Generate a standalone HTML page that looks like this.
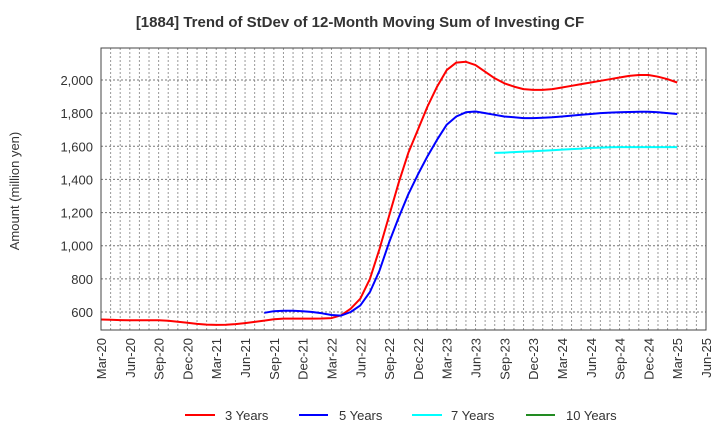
<!DOCTYPE html>
<html><head><meta charset="utf-8"><style>
body{margin:0;background:#fff;font-family:"Liberation Sans",sans-serif}
</style></head><body>
<svg id="chart" width="720" height="440" xmlns="http://www.w3.org/2000/svg" font-family="Liberation Sans, sans-serif">
<text x="360" y="27" text-anchor="middle" font-size="15" font-weight="bold" fill="#333">[1884]  Trend of StDev of 12-Month Moving Sum of Investing CF</text>
<text transform="translate(19,191) rotate(-90)" text-anchor="middle" font-size="13" fill="#333">Amount (million yen)</text>
<g id="grid"></g><g id="series"></g><g id="axes"></g>
<g font-size="13" fill="#333">
<line x1="185" y1="415" x2="215" y2="415" stroke="#f00" stroke-width="2"/><text x="225" y="420">3 Years</text>
<line x1="299" y1="415" x2="328" y2="415" stroke="#00f" stroke-width="2"/><text x="339" y="420">5 Years</text>
<line x1="412" y1="415" x2="442" y2="415" stroke="#0ff" stroke-width="2"/><text x="451" y="420">7 Years</text>
<line x1="526" y1="415" x2="555" y2="415" stroke="#228b22" stroke-width="2"/><text x="566" y="420">10 Years</text>
</g>
</svg>
<script>
const xLabels=["Mar-20","Jun-20","Sep-20","Dec-20","Mar-21","Jun-21","Sep-21","Dec-21","Mar-22","Jun-22","Sep-22","Dec-22","Mar-23","Jun-23","Sep-23","Dec-23","Mar-24","Jun-24","Sep-24","Dec-24","Mar-25","Jun-25"];
const yTicks=[600,800,1000,1200,1400,1600,1800,2000];
const s3=[555,553,551,550,550,550,550,547,541,535,528,524,522,523,527,533,540,548,556,560,560,560,560,561,563,580,620,680,800,980,1180,1380,1560,1700,1840,1960,2060,2105,2110,2090,2050,2010,1980,1960,1945,1940,1940,1945,1955,1965,1975,1985,1995,2005,2015,2025,2030,2030,2020,2005,1985];
const s5=Array(17).fill(null).concat([595,605,608,608,605,600,592,582,578,600,640,720,850,1020,1170,1310,1430,1540,1640,1730,1780,1805,1810,1800,1790,1780,1775,1770,1770,1772,1775,1780,1785,1790,1795,1800,1803,1805,1807,1808,1808,1805,1800,1795]);
const s7=Array(41).fill(null).concat([1560,1562,1565,1568,1570,1573,1576,1580,1583,1586,1590,1592,1594,1595,1595,1595,1595,1595,1595,1595]);
const s10=[];
const L=101,R=706,T=48,B=330;
const X=m=>L+m*(R-L)/63;
const Y=v=>312-(v-600)*(232/1400);
const NS="http://www.w3.org/2000/svg";
function mk(t,a,p){const e=document.createElementNS(NS,t);for(const k in a)e.setAttribute(k,a[k]);p.appendChild(e);return e;}
const grid=document.getElementById('grid'),axes=document.getElementById('axes'),ser=document.getElementById('series');
for(let m=1;m<63;m++){const l=mk('line',{x1:X(m),x2:X(m),y1:T,y2:B,stroke:'#999','stroke-width':1,'stroke-dasharray':'2,2'},grid);

}
yTicks.forEach(v=>{const l=mk('line',{x1:L,x2:R,y1:Y(v),y2:Y(v),stroke:'#777','stroke-width':1,'stroke-dasharray':'2,2'},grid);


const t=mk('text',{x:L-8,y:Y(v)+5,'text-anchor':'end','font-size':13,fill:'#333'},axes);


t.textContent=v.toLocaleString('en-US');});
const box=mk('rect',{x:L,y:T,width:R-L,height:B-T,fill:'none',stroke:'#444','stroke-width':1},axes);


xLabels.forEach((s,i)=>{const x=X(i*3);const t=mk('text',{transform:`translate(${x+5},338) rotate(-90)`,'text-anchor':'end','font-size':13,fill:'#333'},axes);


t.textContent=s;});
function draw(arr,color,name){let d='';arr.forEach((v,i)=>{if(v==null)return;d+=(d?'L':'M')+X(i).toFixed(1)+','+Y(v).toFixed(1);});
if(!d)return;const p=mk('path',{d:d,fill:'none',stroke:color,'stroke-width':2,'stroke-linejoin':'round'},ser);

}
draw(s3,'#f00','line-3-years');draw(s5,'#00f','line-5-years');draw(s7,'#0ff','line-7-years');draw(s10,'#228b22','line-10-years');
</script>
</body></html>
